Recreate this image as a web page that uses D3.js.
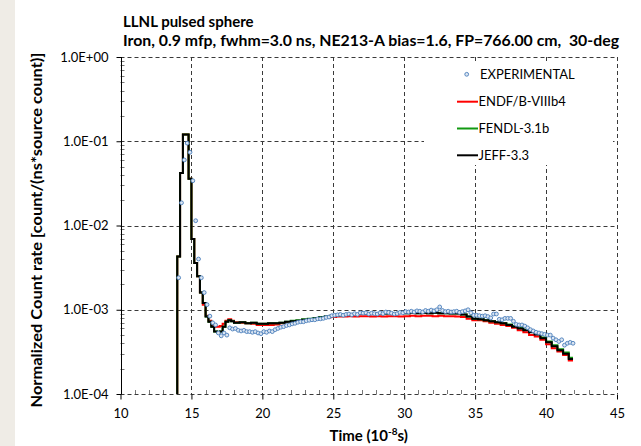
<!DOCTYPE html>
<html>
<head>
<meta charset="utf-8">
<script src="https://cdn.jsdelivr.net/npm/d3@7"></script>
<style>
  body { margin: 0; background: #fff; }
  svg { display: block; }
  text { font-family: Lato, "Open Sans", sans-serif; fill: #000; }
</style>
</head>
<body>
<script>
// experimental points (time in 1e-8 s, count rate)
var expTime = [
  14.1,14.3,14.5,14.7,14.9,15.1,15.3,15.5,15.7,15.9,
  16.1,16.3,16.5,16.7,16.9,17.1,17.3,17.5,17.7,17.9,
  18.1,18.3,18.5,18.7,18.9,19.1,19.3,19.5,19.7,19.9,
  20.1,20.3,20.5,20.7,20.9,21.1,21.3,21.5,21.7,21.9,
  22.1,22.3,22.5,22.7,22.9,23.1,23.3,23.5,23.7,23.9,
  24.1,24.3,24.5,24.7,24.9,25.1,25.3,25.5,25.7,25.9,
  26.1,26.3,26.5,26.7,26.9,27.1,27.3,27.5,27.7,27.9,
  28.1,28.3,28.5,28.7,28.9,29.1,29.3,29.5,29.7,29.9,
  30.1,30.3,30.5,30.7,30.9,31.1,31.3,31.5,31.7,31.9,
  32.1,32.3,32.5,32.7,32.9,33.1,33.3,33.5,33.7,33.9,
  34.1,34.3,34.5,34.7,34.9,35.1,35.3,35.5,35.7,35.9,
  36.1,36.3,36.5,36.7,36.9,37.1,37.3,37.5,37.7,37.9,
  38.1,38.3,38.5,38.7,38.9,39.1,39.3,39.5,39.7,39.9,
  40.1,40.3,40.5,40.7,40.9,41.1,41.3,41.5,41.7,41.9
];
var expValue = [
  2.4e-3,1.86e-2,6.0e-2,9.5e-2,7.4e-2,3.4e-2,1.14e-2,4.0e-3,2.4e-3,1.6e-3,
  1.15e-3,8.4e-4,7.0e-4,6.6e-4,5.3e-4,4.9e-4,5.3e-4,5.0e-4,6.1e-4,5.9e-4,
  6.0e-4,5.7e-4,5.6e-4,5.7e-4,5.5e-4,5.5e-4,5.4e-4,5.5e-4,5.3e-4,5.2e-4,
  5.5e-4,5.4e-4,5.6e-4,5.5e-4,5.8e-4,6.0e-4,6.2e-4,6.3e-4,6.5e-4,6.6e-4,
  6.8e-4,6.9e-4,7.1e-4,7.2e-4,7.2e-4,7.4e-4,7.5e-4,7.6e-4,7.6e-4,7.8e-4,
  7.8e-4,7.9e-4,8.1e-4,8.2e-4,8.5e-4,8.6e-4,8.7e-4,8.8e-4,8.6e-4,8.8e-4,
  8.9e-4,8.7e-4,9.0e-4,8.8e-4,9.2e-4,9.1e-4,9.2e-4,8.9e-4,9.1e-4,9.0e-4,
  8.9e-4,9.2e-4,9.0e-4,9.4e-4,9.3e-4,9.1e-4,8.9e-4,9.0e-4,9.3e-4,9.2e-4,
  9.5e-4,9.4e-4,9.6e-4,9.4e-4,9.7e-4,9.6e-4,9.4e-4,9.8e-4,9.6e-4,9.9e-4,
  9.7e-4,1.0e-3,1.08e-3,9.8e-4,9.5e-4,9.6e-4,9.4e-4,9.5e-4,9.6e-4,9.3e-4,
  9.5e-4,9.7e-4,1.0e-3,9.2e-4,8.6e-4,8.6e-4,8.5e-4,8.4e-4,8.5e-4,8.3e-4,
  8.0e-4,8.9e-4,8.9e-4,7.7e-4,7.6e-4,7.9e-4,7.9e-4,7.9e-4,7.3e-4,6.7e-4,
  6.6e-4,6.6e-4,6.4e-4,6.1e-4,5.8e-4,5.6e-4,5.4e-4,5.3e-4,5.2e-4,5.1e-4,
  5.0e-4,5.0e-4,4.6e-4,4.4e-4,4.2e-4,4.4e-4,3.8e-4,4.0e-4,4.1e-4,4.0e-4
];

// calculated histograms: bin start times, last bin ends at simEnd
var simStart = [
  14.0,14.2,14.4,14.6,14.8,15.0,15.2,15.4,15.6,15.8,
  16.0,16.2,16.4,16.6,16.8,17.0,17.2,17.4,17.6,17.8,
  18.0,18.4,18.8,19.2,19.6,20.0,20.4,20.8,21.2,21.6,
  22.0,22.4,22.8,23.2,23.6,24.0,24.4,24.8,25.2,25.6,
  26.0,26.4,26.8,27.2,27.6,28.0,28.4,28.8,29.2,29.6,
  30.0,30.4,30.8,31.2,31.6,32.0,32.4,32.8,33.2,33.6,
  34.0,34.4,34.8,35.2,35.6,36.0,36.4,36.8,37.2,37.6,
  38.0,38.4,38.8,39.2,39.6,40.0,40.4,40.8,41.2,41.6
];
var simEnd = 41.9;

var endfValue = [
  4.3e-3,0.042,0.12,0.12,0.036,6.9e-3,3.6e-3,2.5e-3,1.6e-3,1.15e-3,
  8.5e-4,7.4e-4,6.5e-4,6.3e-4,6.3e-4,6.4e-4,6.8e-4,7.4e-4,7.7e-4,7.4e-4,
  7.1e-4,7.0e-4,6.9e-4,6.8e-4,6.6e-4,6.6e-4,6.6e-4,6.7e-4,6.9e-4,7.1e-4,
  7.2e-4,7.3e-4,7.5e-4,7.6e-4,7.8e-4,8.0e-4,8.1e-4,8.2e-4,8.3e-4,8.3e-4,
  8.4e-4,8.3e-4,8.4e-4,8.4e-4,8.3e-4,8.4e-4,8.3e-4,8.4e-4,8.4e-4,8.3e-4,
  8.4e-4,8.5e-4,8.4e-4,8.5e-4,8.5e-4,8.4e-4,8.5e-4,8.4e-4,8.4e-4,8.3e-4,
  8.2e-4,7.8e-4,7.5e-4,7.5e-4,7.3e-4,7.0e-4,6.8e-4,6.6e-4,6.4e-4,6.1e-4,
  5.7e-4,5.4e-4,5.0e-4,4.8e-4,4.4e-4,3.9e-4,3.5e-4,3.2e-4,2.9e-4,2.5e-4
];
var fendlValue = [
  4.3e-3,0.042,0.12,0.12,0.036,6.9e-3,3.6e-3,2.5e-3,1.6e-3,1.2e-3,
  8.3e-4,7.2e-4,6.3e-4,5.5e-4,5.4e-4,5.5e-4,6.3e-4,7.2e-4,7.5e-4,7.3e-4,
  7.0e-4,7.1e-4,6.9e-4,7.0e-4,6.8e-4,6.8e-4,6.9e-4,6.9e-4,7.0e-4,7.2e-4,
  7.4e-4,7.5e-4,7.7e-4,7.8e-4,8.0e-4,8.2e-4,8.3e-4,8.5e-4,8.6e-4,8.7e-4,
  8.8e-4,8.9e-4,8.9e-4,9.0e-4,9.0e-4,9.1e-4,9.0e-4,9.1e-4,9.1e-4,9.2e-4,
  9.1e-4,9.2e-4,9.1e-4,9.2e-4,9.1e-4,9.2e-4,9.1e-4,9.1e-4,9.0e-4,9.0e-4,
  8.8e-4,8.3e-4,7.8e-4,7.7e-4,7.5e-4,7.3e-4,7.1e-4,6.9e-4,6.7e-4,6.4e-4,
  6.1e-4,5.8e-4,5.5e-4,5.2e-4,4.7e-4,4.2e-4,3.8e-4,3.4e-4,3.1e-4,2.7e-4
];
var jeffValue = [
  4.3e-3,0.042,0.12,0.12,0.036,6.9e-3,3.6e-3,2.5e-3,1.6e-3,1.2e-3,
  8.3e-4,7.2e-4,6.3e-4,5.5e-4,5.4e-4,5.5e-4,6.3e-4,7.2e-4,7.5e-4,7.3e-4,
  7.0e-4,7.1e-4,6.9e-4,7.0e-4,6.8e-4,6.8e-4,6.9e-4,6.9e-4,7.0e-4,7.2e-4,
  7.3e-4,7.4e-4,7.6e-4,7.7e-4,7.9e-4,8.1e-4,8.3e-4,8.5e-4,8.6e-4,8.7e-4,
  8.8e-4,8.9e-4,8.9e-4,9.0e-4,9.0e-4,9.1e-4,9.0e-4,9.1e-4,9.1e-4,9.2e-4,
  9.1e-4,9.2e-4,9.1e-4,9.2e-4,9.1e-4,9.2e-4,9.1e-4,9.1e-4,9.0e-4,9.0e-4,
  8.8e-4,8.3e-4,7.8e-4,7.7e-4,7.5e-4,7.3e-4,7.1e-4,6.9e-4,6.6e-4,6.3e-4,
  6.0e-4,5.7e-4,5.4e-4,5.1e-4,4.6e-4,4.1e-4,3.7e-4,3.3e-4,3.0e-4,2.6e-4
];

var xTicks = [10, 15, 20, 25, 30, 35, 40, 45];
var yTicks = [1e-4, 1e-3, 1e-2, 1e-1, 1];

var series = [
  { name: "ENDF/B-VIIIb4", values: endfValue, color: "#ff0000" },
  { name: "FENDL-3.1b", values: fendlValue, color: "#119911" },
  { name: "JEFF-3.3", values: jeffValue, color: "#000000" }
];

var width = 641, height = 446;
var plotL = 120.5, plotR = 617, plotT = 57, plotB = 394;

var svg = d3.select("body").append("svg")
    .attr("width", width)
    .attr("height", height);

svg.append("rect").attr("x", 0).attr("y", 0).attr("width", 15).attr("height", height)
    .attr("fill", "#efece6");

var x = d3.scaleLinear().domain([10, 45]).range([plotL, plotR]);
var y = d3.scaleLog().domain([1e-4, 1]).range([plotB, plotT]);

var fmtE = function(v) {
  var e = Math.round(Math.log10(v));
  return "1.0E" + (e < 0 ? "-" : "+") + String(Math.abs(e)).padStart(2, "0");
};

// grid
var grid = svg.append("g").attr("stroke", "#3a3a3a").attr("stroke-width", 1)
    .attr("stroke-dasharray", "4,3").attr("fill", "none");
grid.selectAll("line.v").data(xTicks.slice(1)).enter().append("line")
    .attr("x1", function(d) { return Math.round(x(d)) + 0.5; })
    .attr("x2", function(d) { return Math.round(x(d)) + 0.5; })
    .attr("y1", plotT).attr("y2", plotB);
grid.selectAll("line.h").data(yTicks).enter().append("line")
    .attr("x1", plotL).attr("x2", plotR)
    .attr("y1", function(d) { return Math.round(y(d)) + 0.5; })
    .attr("y2", function(d) { return Math.round(y(d)) + 0.5; });

// minor ticks
var minorY = [];
for (var k = -4; k < 0; k++) for (var m = 2; m <= 9; m++) minorY.push(m * Math.pow(10, k));
svg.append("g").selectAll("line").data(minorY).enter().append("line")
    .attr("x1", plotL).attr("x2", plotL + 4)
    .attr("y1", function(d) { return Math.round(y(d)) + 0.5; })
    .attr("y2", function(d) { return Math.round(y(d)) + 0.5; })
    .attr("stroke", "#777");
var minorX = d3.range(11, 45).filter(function(d) { return d % 5 !== 0; });
svg.append("g").selectAll("line").data(minorX).enter().append("line")
    .attr("x1", function(d) { return Math.round(x(d)) + 0.5; })
    .attr("x2", function(d) { return Math.round(x(d)) + 0.5; })
    .attr("y1", plotB).attr("y2", plotB - 4)
    .attr("stroke", "#777");

// axes
var yAxis = svg.append("g").attr("transform", "translate(" + (Math.round(plotL) + 0.5) + ",0)")
    .call(d3.axisLeft(y).tickValues(yTicks).tickFormat(fmtE).tickSize(5).tickPadding(8));
yAxis.select(".domain").attr("stroke", "#000").attr("d", "M0," + plotT + "V" + plotB);
yAxis.selectAll("text").attr("font-size", 13).style("font-family", "Lato, sans-serif");

var xAxis = svg.append("g").attr("transform", "translate(0," + (Math.round(plotB) + 0.5) + ")")
    .call(d3.axisBottom(x).tickValues(xTicks).tickFormat(d3.format("d")).tickSize(5).tickPadding(9));
xAxis.select(".domain").remove();
xAxis.selectAll("text").attr("font-size", 13).style("font-family", "Lato, sans-serif");

// lines
var clipId = "plotclip";
svg.append("clipPath").attr("id", clipId).append("rect")
    .attr("x", plotL).attr("y", plotT).attr("width", plotR - plotL).attr("height", plotB - plotT);

var stepLine = d3.line()
    .x(function(d) { return x(d[0]); })
    .y(function(d) { return y(d[1]); })
    .curve(d3.curveStepAfter);

var plot = svg.append("g").attr("clip-path", "url(#" + clipId + ")");

series.forEach(function(s) {
  var pts = [[simStart[0], 1e-4]];
  simStart.forEach(function(t, i) { pts.push([t, s.values[i]]); });
  pts.push([simEnd, s.values[s.values.length - 1]]);
  plot.append("path")
      .attr("d", stepLine(pts))
      .attr("fill", "none")
      .attr("stroke", s.color)
      .attr("stroke-width", 2);
});

plot.selectAll("circle.exp").data(expTime).enter().append("circle")
    .attr("class", "exp")
    .attr("cx", function(d) { return x(d); })
    .attr("cy", function(d, i) { return y(expValue[i]); })
    .attr("r", 1.9)
    .attr("fill", "#dbe5f1")
    .attr("stroke", "#4a7ebb")
    .attr("stroke-width", 0.9);

// legend
var lg = svg.append("g");
lg.append("rect").attr("x", 424).attr("y", 61).attr("width", 189).attr("height", 104).attr("fill", "#fff");
lg.append("circle").attr("cx", 466.7).attr("cy", 74.3).attr("r", 1.9)
    .attr("fill", "#dbe5f1").attr("stroke", "#4a7ebb").attr("stroke-width", 0.9);
lg.append("text").attr("x", 480).attr("y", 78.5).attr("font-size", 13).text("EXPERIMENTAL");
series.forEach(function(s, i) {
  var cy = 101.7 + i * 26.8;
  lg.append("line").attr("x1", 457).attr("x2", 478).attr("y1", cy).attr("y2", cy)
      .attr("stroke", s.color).attr("stroke-width", 2);
  lg.append("text").attr("x", 478.5).attr("y", cy + 4.5).attr("font-size", 13).text(s.name);
});

// titles
svg.append("text").attr("x", 123).attr("y", 27).attr("font-size", 15).attr("font-weight", "bold")
    .text("LLNL pulsed sphere");
svg.append("text").attr("x", 123).attr("y", 46).attr("font-size", 15).attr("font-weight", "bold")
    .style("white-space", "pre")
    .attr("textLength", 496).attr("lengthAdjust", "spacingAndGlyphs")
    .text("Iron, 0.9 mfp, fwhm=3.0 ns, NE213-A bias=1.6, FP=766.00 cm,  30-deg");

svg.append("text")
    .attr("transform", "translate(42,230) rotate(-90)")
    .attr("text-anchor", "middle").attr("font-size", 15).attr("font-weight", "bold")
    .attr("textLength", 355).attr("lengthAdjust", "spacingAndGlyphs")
    .text("Normalized Count rate [count/(ns*source count)]");

var xt = svg.append("text").attr("x", (plotL + plotR) / 2).attr("y", 441)
    .attr("text-anchor", "middle").attr("font-size", 15).attr("font-weight", "bold");
xt.append("tspan").text("Time (10");
xt.append("tspan").attr("font-size", 10).attr("dy", -6).text("-8");
xt.append("tspan").attr("dy", 6).text("s)");
</script>
</body>
</html>
